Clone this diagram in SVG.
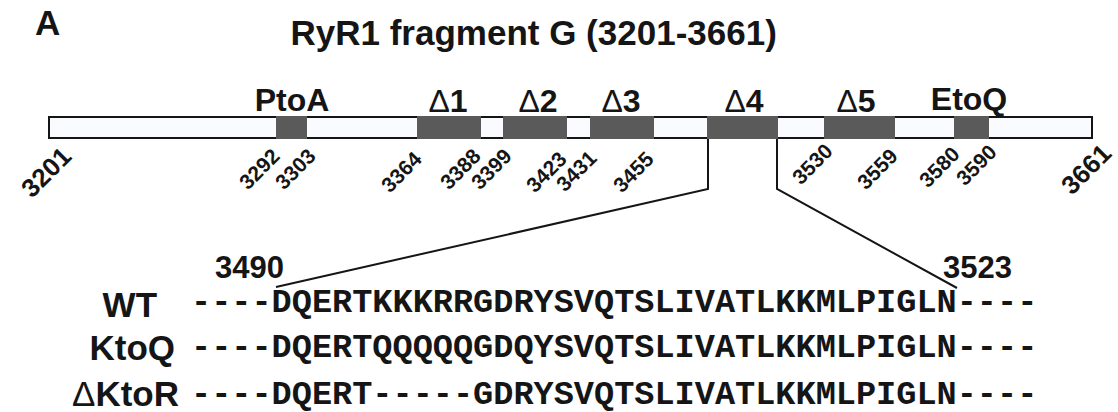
<svg xmlns="http://www.w3.org/2000/svg" width="1118" height="412" viewBox="0 0 1118 412">
<style>
.t{font-family:"Liberation Sans",Arial,sans-serif;font-weight:bold;fill:#151515}
.lab{font-size:32px;text-anchor:middle}
.num{font-size:21px;text-anchor:end}
.big{font-size:26px;text-anchor:end}
.seq{font-family:"Liberation Mono","Courier New",monospace;font-weight:bold;font-size:33.6px;fill:#151515}
.row{font-size:35px}
.d{font-weight:normal}
.seg{fill:#5a5a5a}
.ln{fill:none;stroke:#151515;stroke-width:2}
</style>
<rect width="1118" height="412" fill="#ffffff"/>
<g id="panel-label"><text class="t" x="35" y="35" font-size="35">A</text></g>
<g id="title"><text class="t" x="290.5" y="45" font-size="35">RyR1 fragment G (3201-3661)</text></g>
<g id="bar">
<rect x="49" y="117" width="1043" height="21" fill="#f9fbfe" stroke="#151515" stroke-width="2"/>
</g>
<g id="seg-PtoA"><rect class="seg" x="276" y="116" width="31" height="23"/><text class="t lab" x="292" y="111">PtoA</text></g>
<g id="seg-d1"><rect class="seg" x="417" y="116" width="64" height="23"/><text class="t lab" x="448" y="112"><tspan class="d">Δ</tspan>1</text></g>
<g id="seg-d2"><rect class="seg" x="503" y="116" width="64" height="23"/><text class="t lab" x="538" y="112"><tspan class="d">Δ</tspan>2</text></g>
<g id="seg-d3"><rect class="seg" x="590" y="116" width="64" height="23"/><text class="t lab" x="621" y="112"><tspan class="d">Δ</tspan>3</text></g>
<g id="seg-d4"><rect class="seg" x="707" y="116" width="71" height="23"/><text class="t lab" x="744" y="112"><tspan class="d">Δ</tspan>4</text></g>
<g id="seg-d5"><rect class="seg" x="824" y="116" width="71" height="23"/><text class="t lab" x="856" y="112"><tspan class="d">Δ</tspan>5</text></g>
<g id="seg-EtoQ"><rect class="seg" x="954" y="116" width="35" height="23"/><text class="t lab" x="969" y="110">EtoQ</text></g>
<g id="positions">
<text class="t big" transform="translate(73,158) rotate(-45)">3201</text>
<text class="t num" transform="translate(281,157.6) rotate(-45)">3292</text>
<text class="t num" transform="translate(317,157.6) rotate(-45)">3303</text>
<text class="t num" transform="translate(423,160.6) rotate(-45)">3364</text>
<text class="t num" transform="translate(482,157.6) rotate(-45)">3388</text>
<text class="t num" transform="translate(513,157.6) rotate(-45)">3399</text>
<text class="t num" transform="translate(568,160.6) rotate(-45)">3423</text>
<text class="t num" transform="translate(598,159.6) rotate(-45)">3431</text>
<text class="t num" transform="translate(655,160.6) rotate(-45)">3455</text>
<text class="t num" transform="translate(834,152.6) rotate(-45)">3530</text>
<text class="t num" transform="translate(899,157.6) rotate(-45)">3559</text>
<text class="t num" transform="translate(961,155.6) rotate(-45)">3580</text>
<text class="t num" transform="translate(998,153.6) rotate(-45)">3590</text>
<text class="t big" transform="translate(1113,155) rotate(-45)">3661</text>
</g>
<g id="connectors">
<polyline class="ln" points="708,139 708,189 276,287"/>
<polyline class="ln" points="777,139 777,189 957,288"/>
</g>
<g id="range-labels">
<text class="t" x="215" y="278" font-size="31">3490</text>
<text class="t" x="943" y="278" font-size="31">3523</text>
</g>
<g id="row-WT"><text class="t row" x="102.6" y="317">WT</text><text class="seq" x="191" y="312">----DQERTKKKRRGDRYSVQTSLIVATLKKMLPIGLN----</text></g>
<g id="row-KtoQ"><text class="t row" x="89.5" y="360">KtoQ</text><text class="seq" x="191" y="357">----DQERTQQQQQGDQYSVQTSLIVATLKKMLPIGLN----</text></g>
<g id="row-dKtoR"><text class="t row" x="72" y="406"><tspan class="d">Δ</tspan>KtoR</text><text class="seq" x="191" y="404">----DQERT-----GDRYSVQTSLIVATLKKMLPIGLN----</text></g>
</svg>
